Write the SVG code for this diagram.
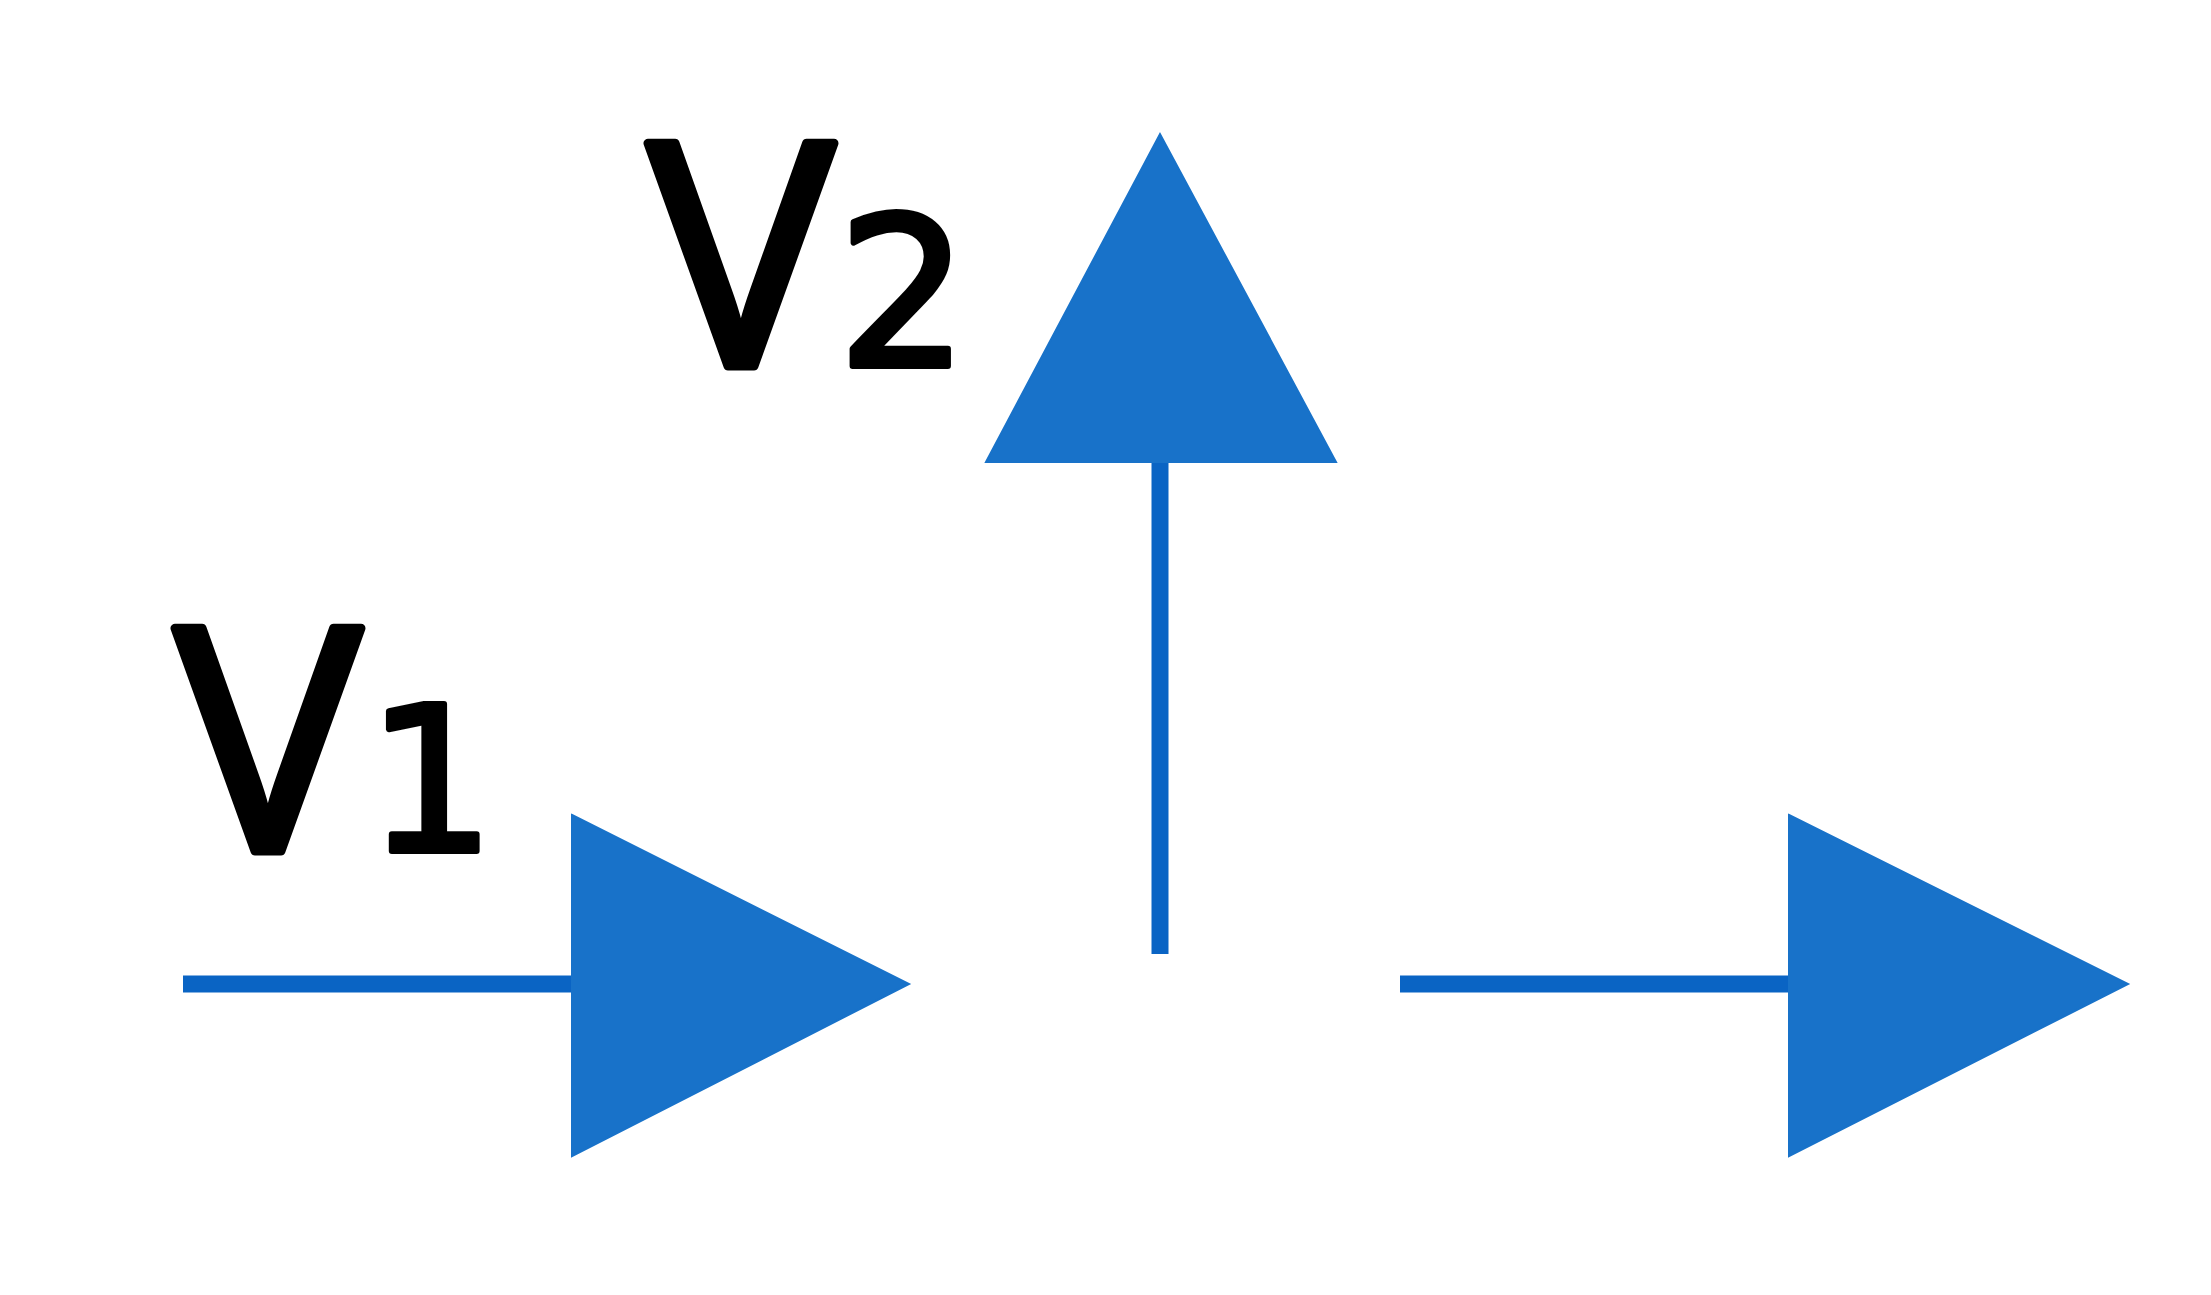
<svg xmlns="http://www.w3.org/2000/svg" width="2211" height="1295" viewBox="0 0 2211 1295">
<style>
.shaft{stroke:#0a64c4;stroke-width:17;stroke-linecap:butt;fill:none}
.head{fill:#1872c9;stroke:#1872c9;stroke-width:2;stroke-linejoin:miter}
.lbl{font-family:"Open Sans","Liberation Sans",sans-serif;fill:#000;stroke:#000;stroke-width:9;stroke-linejoin:round;text-anchor:middle}
.sub{font-family:"DejaVu Sans","Liberation Sans",sans-serif;fill:#000;stroke:#000;stroke-width:6;stroke-linejoin:round;text-anchor:middle}
</style>
<rect width="2211" height="1295" fill="#ffffff"/>
<g id="connectors">
<g id="arrow-v1">
<line class="shaft" x1="183" y1="984" x2="575" y2="984"/>
<polygon class="head" points="572,815 909,984 572,1156"/>
</g>
<g id="arrow-v2">
<line class="shaft" x1="1160" y1="954" x2="1160" y2="458"/>
<polygon class="head" points="986,462 1160,134 1336,462"/>
</g>
<g id="arrow-out">
<line class="shaft" x1="1400" y1="984" x2="1792" y2="984"/>
<polygon class="head" points="1789,815 2128,984 1789,1156"/>
</g>
</g>
<g id="label-v1">
<text class="lbl" x="268" y="851" font-size="312">V</text>
<text class="sub" x="431" y="851" font-size="202">1</text>
</g>
<g id="label-v2">
<text class="lbl" x="741" y="366" font-size="312">V</text>
<text class="sub" x="903" y="366" font-size="206">2</text>
</g>
</svg>
